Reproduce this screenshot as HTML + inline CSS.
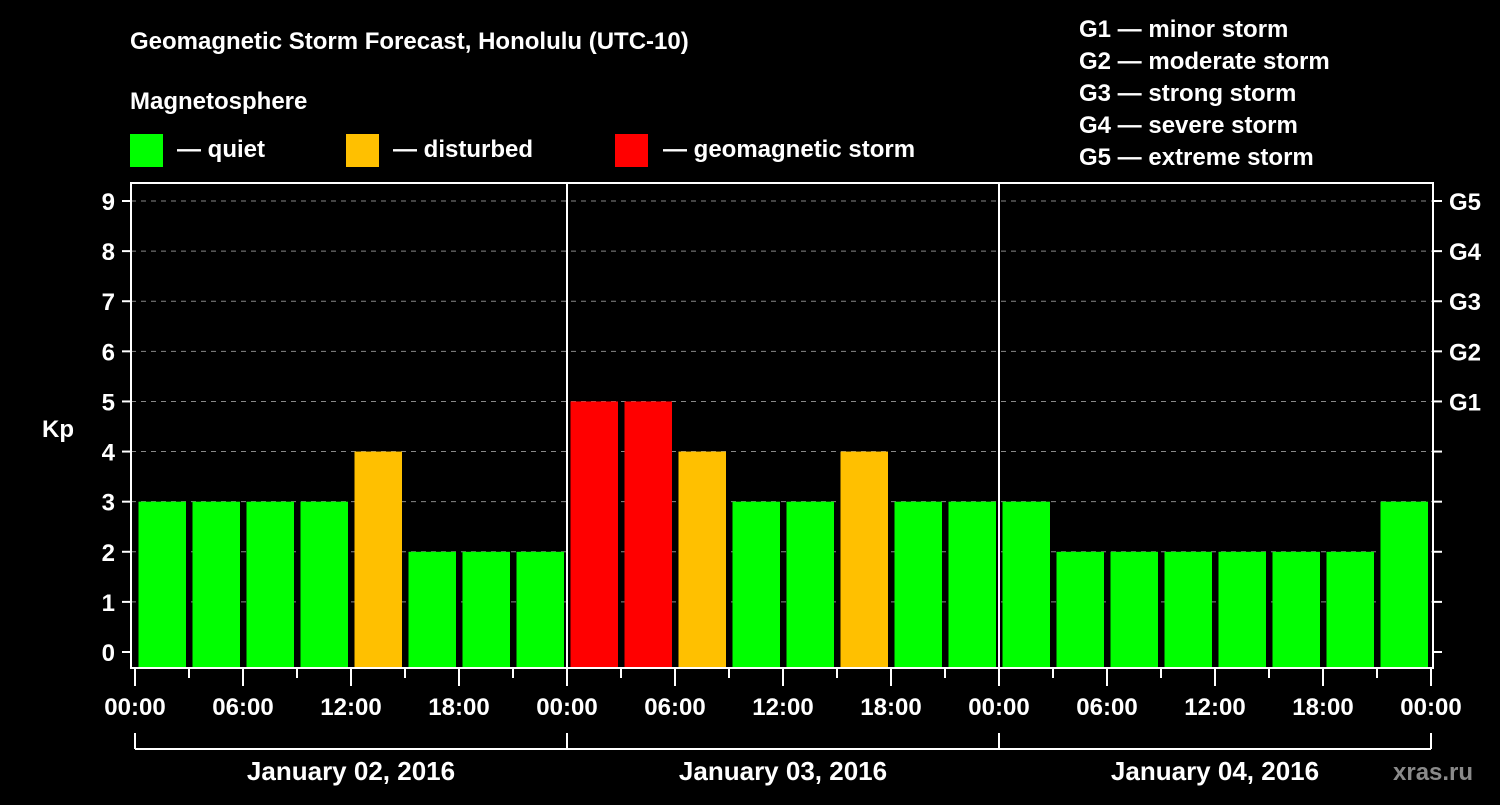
<!DOCTYPE html>
<html><head><meta charset="utf-8"><style>
body{margin:0;background:#000;width:1500px;height:800px;overflow:hidden}
text{font-family:"Liberation Sans",Arial,sans-serif;font-weight:bold;fill:#fff}
</style></head><body>
<svg id="chart" width="1500" height="800" xmlns="http://www.w3.org/2000/svg">
<rect width="1500" height="800" fill="#000"/>
<text x="130" y="49" font-size="24">Geomagnetic Storm Forecast, Honolulu (UTC-10)</text>
<text x="130" y="109" font-size="24">Magnetosphere</text>
<g><rect x="130" y="134" width="33" height="33" fill="#00ff00"/><text x="177" y="157" font-size="24">— quiet</text></g>
<g><rect x="346" y="134" width="33" height="33" fill="#ffc000"/><text x="393" y="157" font-size="24">— disturbed</text></g>
<g><rect x="615" y="134" width="33" height="33" fill="#ff0000"/><text x="663" y="157" font-size="24">— geomagnetic storm</text></g>
<g font-size="24">
<text x="1079" y="37">G1 — minor storm</text>
<text x="1079" y="69">G2 — moderate storm</text>
<text x="1079" y="101">G3 — strong storm</text>
<text x="1079" y="133">G4 — severe storm</text>
<text x="1079" y="165">G5 — extreme storm</text>
</g>
<text x="42" y="437" font-size="24">Kp</text>
<text x="1393" y="780" font-size="24" fill="#888" style="fill:#8a8a8a">xras.ru</text>
<g id="grid"></g><g id="daylines"></g><g id="bars"></g><g id="axes"></g>
</svg>
<script>
const values=[3,3,3,3,4,2,2,2,5,5,4,3,3,4,3,3,3,2,2,2,2,2,2,3,2];
const yTicks=[0,1,2,3,4,5,6,7,8,9];
const gLabels=["G1","G2","G3","G4","G5"];
const timeLabels=["00:00","06:00","12:00","18:00","00:00","06:00","12:00","18:00","00:00","06:00","12:00","18:00","00:00"];
const dayLabels=["January 02, 2016","January 03, 2016","January 04, 2016"];
const NS="http://www.w3.org/2000/svg";
const L=131,R=1433,T=183,B=668,X0=135,HOUR=18;
const y=v=>652-v*50.11;
const x=h=>X0+h*HOUR;
function mk(parent,tag,attrs){const e=document.createElementNS(NS,tag);for(const k in attrs)e.setAttribute(k,attrs[k]);document.getElementById(parent).appendChild(e);return e;}
yTicks.forEach(v=>{
 if(v>=1){const g=mk('grid','line',{x1:L,x2:R,y1:y(v),y2:y(v),stroke:'#888','stroke-dasharray':'5,5','stroke-width':1});
 
 }
 const t=mk('axes','line',{x1:122,x2:L,y1:y(v),y2:y(v),stroke:'#fff','stroke-width':2});
 
 
 const t2=mk('axes','line',{x1:R,x2:1442,y1:y(v),y2:y(v),stroke:'#fff','stroke-width':2});
 
 
 const lb=mk('axes','text',{x:115,y:y(v)+9,'font-size':24,'text-anchor':'end'});lb.textContent=v;
 
 
});
gLabels.forEach((g,i)=>{const lb=mk('axes','text',{x:1449,y:y(5+i)+9,'font-size':24});lb.textContent=g;
 
 });
[1,2].forEach(d=>{const l=mk('daylines','line',{x1:x(24*d),x2:x(24*d),y1:T,y2:B,stroke:'#fff','stroke-width':2});
 
 });
values.forEach((v,i)=>{
 const c=1.5+3*i;let x1=x(c)-24+0.5,x2=x(c)+24;
 x1=Math.max(x1,L+5);x2=Math.min(x2,R-5);
 const col=v>=5?'#ff0000':v>=4?'#ffc000':'#00ff00';
 const b=mk('bars','rect',{x:x1,y:y(v),width:x2-x1,height:B-y(v),fill:col});
 
 
});
const fr=mk('axes','rect',{x:L,y:T,width:R-L,height:B-T,fill:'none',stroke:'#fff','stroke-width':2});


for(let h=0;h<=72;h+=3){const long=h%6===0;
 const t=mk('axes','line',{x1:x(h),x2:x(h),y1:B,y2:long?686:678,stroke:'#fff','stroke-width':2});
 
 }
timeLabels.forEach((s,i)=>{const lb=mk('axes','text',{x:x(i*6),y:715,'font-size':24,'text-anchor':'middle'});lb.textContent=s;
 
 });
const br=mk('axes','line',{x1:x(0),x2:x(72),y1:749,y2:749,stroke:'#fff','stroke-width':2});


[0,24,48,72].forEach(h=>{const t=mk('axes','line',{x1:x(h),x2:x(h),y1:733,y2:749,stroke:'#fff','stroke-width':2});
 
 });
dayLabels.forEach((s,i)=>{const lb=mk('axes','text',{x:x(24*i+12),y:780,'font-size':26,'text-anchor':'middle'});lb.textContent=s;
 
 });
</script>
</body></html>
